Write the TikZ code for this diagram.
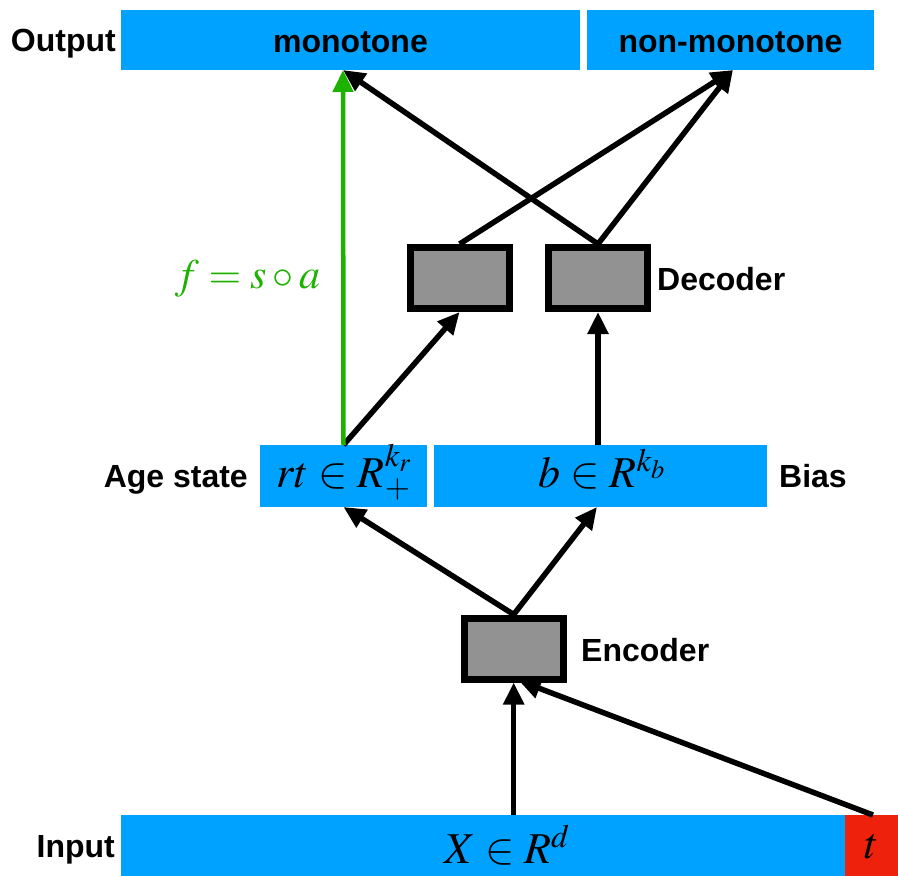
\documentclass[tikz,border=0pt]{standalone}
\usepackage{mathptmx}
\usepackage[no-math]{fontspec}
\newfontfamily\labelfont{Liberation Sans}
\usetikzlibrary{arrows.meta}

\definecolor{barblue}{RGB}{0,162,255}
\definecolor{tred}{RGB}{238,34,12}
\definecolor{boxgray}{RGB}{146,146,146}
\definecolor{fgreen}{RGB}{29,177,0}

\begin{document}
\begin{tikzpicture}[x=1pt,y=-1pt,
  bar/.style={fill=barblue, inner sep=0pt, outer sep=0pt},
  netbox/.style={draw=black, line width=7pt, fill=boxgray, inner sep=0pt,
                 minimum width=99pt, minimum height=61pt},
  txt/.style={font=\labelfont\bfseries\fontsize{32}{38}\selectfont, inner sep=0pt},
  mth/.style={font=\fontsize{44}{50}\selectfont, inner sep=0pt},
  arr/.style={line width=5.5pt, -{Triangle[length=22pt,width=20pt]}},
  garr/.style={line width=4.5pt, draw=fgreen, -{Triangle[length=22pt,width=20pt]}, fgreen}
]
\useasboundingbox (0,0) rectangle (898,876);

% output bars
\node[bar, minimum width=459pt, minimum height=60pt] (mono) at (350.5,40) {};
\node[bar, minimum width=287pt, minimum height=60pt] (nonmono) at (730.5,40) {};
\node[txt, anchor=base] (monotxt) at (350.5,52) {monotone};
\node[txt, anchor=base] (nonmonotxt) at (730.5,52) {non-monotone};
\node[txt, anchor=base east] (outlbl) at (116,51) {Output};

% latent bars
\node[bar, minimum width=167pt, minimum height=62pt] (age) at (343.5,476) {};
\node[bar, minimum width=333pt, minimum height=62pt] (bias) at (600.5,476) {};
\node[mth, anchor=base] (agetxt) at (344,487) {$rt \in R_{+}^{k_r}$};
\node[mth, anchor=base] (biastxt) at (602,487) {$b \in R^{k_b}$};
\node[txt, anchor=base east] (agelbl) at (248,487) {Age state};
\node[txt, anchor=base west] (biaslbl) at (779,487) {Bias};

% input bar
\node[bar, minimum width=724pt, minimum height=61pt] (input) at (483,845.5) {};
\node[bar, fill=tred, minimum width=53pt, minimum height=61pt] (tbox) at (871.5,845.5) {};
\node[mth, anchor=base] (xtxt) at (507,863) {$X \in R^{d}$};
\node[mth, anchor=base] (ttxt) at (872,858) {$t$};
\node[txt, anchor=base east] (inlbl) at (115,857) {Input};

% encoder / decoders
\node[netbox] (enc) at (513.7,648.5) {};
\node[netbox] (dec1) at (459.6,278) {};
\node[netbox] (dec2) at (598,278) {};
\node[txt, anchor=base west] (enclbl) at (581,661) {Encoder};
\node[txt, anchor=base west] (declbl) at (657,290) {Decoder};

% connector end points on the bars
\coordinate (monoIn) at (343,70);
\coordinate (nonmonoIn) at (733,70);
\coordinate (tOut) at (873,815);
\coordinate (biasIn) at (597,507);

% input -> encoder
\draw[arr] (enc.south |- input.north) -- (enc.south);
\draw[arr] (tOut) -- ([xshift=5pt,yshift=2pt]enc.south);

% encoder -> latent
\draw[arr] (enc.north) -- (age.south);
\draw[arr] (enc.north) -- (biasIn);

% latent -> decoders
\draw[arr] (age.north) -- (dec1.south);
\draw[arr] (dec2.south |- bias.north) -- (dec2.south);

% decoders -> outputs
\draw[arr] (dec1.north) -- (nonmonoIn);
\draw[arr] (dec2.north) -- (nonmonoIn);
\draw[arr] (dec2.north) -- (monoIn);

% monotone path
\draw[garr] (age.north) -- (monoIn);
\node[mth, anchor=base, text=fgreen, font=\fontsize{42}{48}\selectfont] (flbl) at (248,288) {$f = s \circ a$};
\end{tikzpicture}
\end{document}
